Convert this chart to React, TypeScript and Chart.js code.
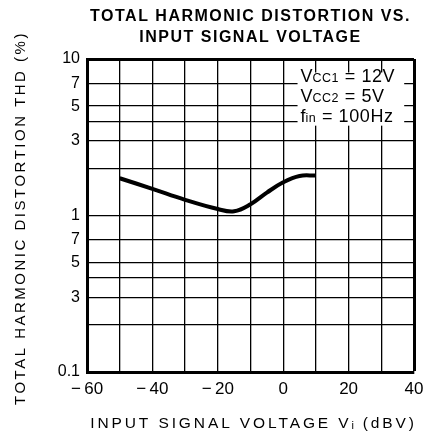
import { useEffect, useRef } from 'react';
import { Chart, registerables } from 'chart.js';

Chart.register(...registerables);

// ---- data ----
const INPUT_VOLTAGE_DBV = [-50, -40, -30, -20, -15, -10, -5, 0, 5, 10];
const THD_PERCENT = [1.73, 1.48, 1.26, 1.1, 1.065, 1.18, 1.4, 1.63, 1.79, 1.8];

const Y_TICK_VALUES = [0.1, 0.2, 0.3, 0.4, 0.5, 0.7, 1, 2, 3, 4, 5, 7, 10];
const Y_TICK_LABELS = ['0.1', '', '3', '', '5', '7', '1', '', '3', '', '5', '7', '10'];
const X_MIN = -60;
const X_MAX = 40;
const X_GRID_STEP = 10;
const X_LABEL_STEP = 20;

const TITLE_LINES = ['TOTAL HARMONIC DISTORTION VS.', 'INPUT SIGNAL VOLTAGE'];
const Y_TITLE = 'TOTAL HARMONIC DISTORTION THD (%)';
const X_TITLE_MAIN = 'INPUT SIGNAL VOLTAGE V';
const X_TITLE_SUB = 'i';
const X_TITLE_TAIL = ' (dBV)';
const CONDITION_MAIN = ['V', 'V', 'f'];
const CONDITION_SUB = ['CC1', 'CC2', 'in'];
const CONDITION_VALUE = [' = 12V', ' = 5V', ' = 100Hz'];

const FAMILY = '"Liberation Sans", Arial, sans-serif';

type Seg = { text: string; font: string; spacing: string; dy?: number };

function drawRich(ctx: CanvasRenderingContext2D, segs: Seg[], x: number, y: number, align: 'left' | 'center') {
  const widths = segs.map((s) => {
    ctx.font = s.font;
    (ctx as any).letterSpacing = s.spacing;
    return ctx.measureText(s.text).width;
  });
  const total = widths.reduce((a, b) => a + b, 0);
  let cx = align === 'center' ? x - total / 2 : x;
  ctx.textAlign = 'left';
  segs.forEach((s, i) => {
    ctx.font = s.font;
    (ctx as any).letterSpacing = s.spacing;
    ctx.fillText(s.text, cx, y + (s.dy || 0));
    cx += widths[i];
  });
  (ctx as any).letterSpacing = '0px';
}

const textPlugin = {
  id: 'datasheetText',
  afterDraw(chart: any) {
    const ctx: CanvasRenderingContext2D = chart.ctx;
    const area = chart.chartArea;
    const cxPlot = (area.left + area.right) / 2;
    ctx.save();
    ctx.fillStyle = '#000';
    ctx.textBaseline = 'alphabetic';

    // main title
    drawRich(ctx, [{ text: TITLE_LINES[0], font: `bold 16px ${FAMILY}`, spacing: '1.5px' }], cxPlot, 21, 'center');
    drawRich(ctx, [{ text: TITLE_LINES[1], font: `bold 16px ${FAMILY}`, spacing: '1.5px' }], cxPlot, 42, 'center');

    // x axis title
    drawRich(
      ctx,
      [
        { text: X_TITLE_MAIN, font: `15.5px ${FAMILY}`, spacing: '2.9px' },
        { text: X_TITLE_SUB, font: `11px ${FAMILY}`, spacing: '1.5px', dy: 1 },
        { text: X_TITLE_TAIL, font: `15.5px ${FAMILY}`, spacing: '2.9px' },
      ],
      cxPlot + 3,
      428,
      'center'
    );

    // y axis title
    ctx.save();
    ctx.translate(25, 218);
    ctx.rotate(-Math.PI / 2);
    drawRich(ctx, [{ text: Y_TITLE, font: `15px ${FAMILY}`, spacing: '2.5px' }], 0, 0, 'center');
    ctx.restore();

    // conditions box
    const xs = chart.scales.x;
    const ys = chart.scales.y;
    const boxLeft = xs.getPixelForValue(5) - 2;
    const boxRight = xs.getPixelForValue(37);
    const boxTop = ys.getPixelForValue(8.2);
    const boxBottom = ys.getPixelForValue(3.75);
    ctx.fillStyle = '#fff';
    ctx.fillRect(boxLeft, boxTop, boxRight - boxLeft, boxBottom - boxTop);
    ctx.fillStyle = '#000';
    CONDITION_MAIN.forEach((m, i) => {
      drawRich(
        ctx,
        [
          { text: m, font: `18px ${FAMILY}`, spacing: '0px' },
          { text: CONDITION_SUB[i], font: `12.5px ${FAMILY}`, spacing: '0.5px' },
          { text: CONDITION_VALUE[i], font: `18px ${FAMILY}`, spacing: '0.6px' },
        ],
        boxLeft + 3,
        82 + i * 20,
        'left'
      );
    });
    ctx.restore();
  },
};

export default function App() {
  const canvasRef = useRef<HTMLCanvasElement | null>(null);

  useEffect(() => {
    const canvas = canvasRef.current;
    if (!canvas) return;
    const points = INPUT_VOLTAGE_DBV.map((x, i) => ({ x, y: THD_PERCENT[i] }));
    const chart = new Chart(canvas, {
      type: 'line',
      data: {
        datasets: [
          {
            data: points,
            borderColor: '#000',
            borderWidth: 4,
            pointRadius: 0,
            tension: 0.4,
            fill: false,
          },
        ],
      },
      options: {
        responsive: false,
        animation: false,
        devicePixelRatio: 1,
        layout: { padding: { top: 59, right: 10, left: 0, bottom: 0 } },
        plugins: {
          legend: { display: false },
          title: { display: false },
          tooltip: { enabled: false },
        },
        scales: {
          x: {
            type: 'linear',
            min: X_MIN,
            max: X_MAX,
            afterFit: (scale: any) => {
              scale.height = 63;
              scale.paddingLeft = 0;
              scale.paddingRight = 0;
            },
            ticks: {
              stepSize: X_GRID_STEP,
              autoSkip: false,
              maxRotation: 0,
              padding: 7,
              color: '#000',
              font: { family: FAMILY, size: 17 },
              callback: (v: any) => {
                const n = Number(v);
                if (n % X_LABEL_STEP !== 0) return '';
                return n < 0 ? '\u2212' + '\u2009' + Math.abs(n) : String(n);
              },
            },
            grid: {
              color: '#000',
              drawTicks: false,
              lineWidth: (c: any) => (c.tick && c.tick.value === X_MAX ? 3 : 1.3),
            },
            border: { display: true, color: '#000', width: 3 },
          },
          y: {
            type: 'logarithmic',
            min: 0.1,
            max: 10,
            afterFit: (scale: any) => {
              scale.width = 87;
              scale.paddingTop = 0;
              scale.paddingBottom = 0;
            },
            afterBuildTicks: (scale: any) => {
              scale.ticks = Y_TICK_VALUES.map((v) => ({ value: v }));
            },
            ticks: {
              autoSkip: false,
              padding: 7,
              color: '#000',
              font: { family: FAMILY, size: 16 },
              callback: (_v: any, i: number) => Y_TICK_LABELS[i],
            },
            grid: {
              color: '#000',
              drawTicks: false,
              lineWidth: (c: any) => (c.tick && c.tick.value === 10 ? 3 : 1.3),
            },
            border: { display: true, color: '#000', width: 3 },
          },
        },
      },
      plugins: [textPlugin],
    } as any);
    return () => chart.destroy();
  }, []);

  return (
    <div style={{ position: 'fixed', left: 0, top: 0, width: 424, height: 435, background: '#fff' }}>
      <canvas ref={canvasRef} width={424} height={435} />
    </div>
  );
}
